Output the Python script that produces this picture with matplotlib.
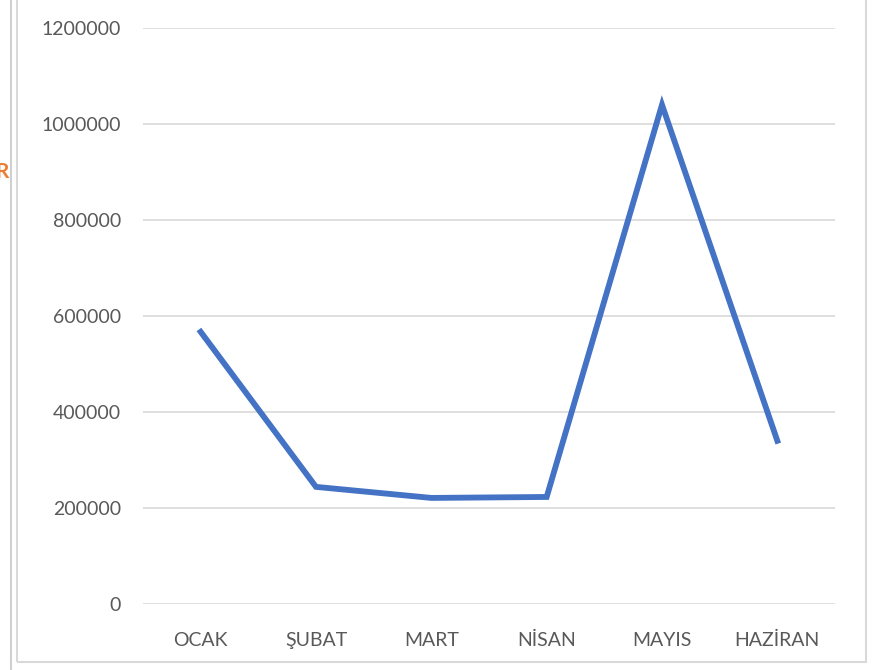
import matplotlib.pyplot as plt
from matplotlib.patches import Rectangle
from matplotlib.lines import Line2D

months = ["OCAK", "ŞUBAT", "MART", "NİSAN", "MAYIS", "HAZİRAN"]
values = [567000, 244000, 221000, 223000, 1040000, 340000]
yticks = [0, 200000, 400000, 600000, 800000, 1000000, 1200000]

plt.rcParams['font.family'] = ['Lato', 'DejaVu Sans']

fig = plt.figure(figsize=(8.76, 6.7), dpi=100)
ax = fig.add_axes([143 / 876, 1 - 604 / 670, 692 / 876, 576 / 670])

x = range(len(months))
ax.plot(x, values, color='#4472C4', lw=4.2, solid_joinstyle='miter', zorder=3)

ax.set_xlim(-0.5, len(months) - 0.5)
ax.set_ylim(0, 1200000)
ax.set_yticks(yticks)
ax.set_yticklabels([str(v) for v in yticks])
ax.set_xticks(list(x))
ax.set_xticklabels(months)
ax.grid(axis='y', color='#D9D9D9', lw=1.2)
ax.set_axisbelow(True)
for s in ax.spines.values():
    s.set_visible(False)
ax.tick_params(axis='both', length=0, colors='#595959', labelsize=14)
ax.tick_params(axis='y', pad=16)
ax.tick_params(axis='x', pad=20)

# chart frame and screenshot edges
fig.patches.append(Rectangle((17 / 876, 8 / 670), 849 / 876, 700 / 670,
                             transform=fig.transFigure, fill=False,
                             edgecolor='#D9D9D9', lw=1.5))
fig.lines.append(Line2D([11 / 876, 11 / 876], [0, 1], transform=fig.transFigure,
                        color='#D0D0D0', lw=1.5))
fig.text(-5 / 876, 1 - 172 / 670, "R", color='#ED7D31', fontsize=15,
         fontweight='bold', va='center', ha='left')

fig.savefig("out.png", dpi=100)
